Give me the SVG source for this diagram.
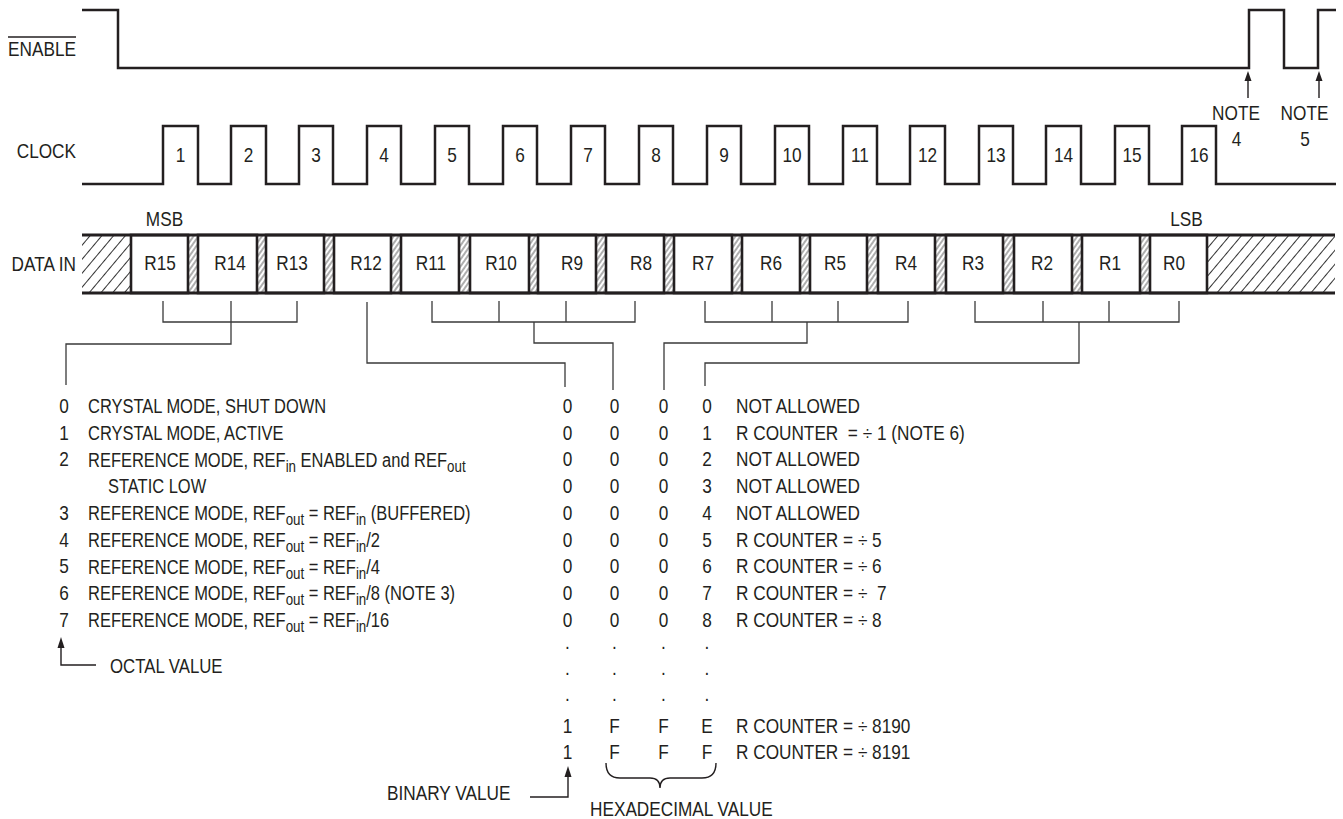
<svg xmlns="http://www.w3.org/2000/svg" width="1343" height="819" viewBox="0 0 1343 819">
<style>
.t{font-family:"Liberation Sans",Arial,Helvetica,sans-serif;font-size:21px;fill:#231f20}
.m{text-anchor:middle}
.e{text-anchor:end}
.sub{font-size:17px}
.wave{fill:none;stroke:#231f20;stroke-width:2.5}
.rail{fill:none;stroke:#231f20;stroke-width:3}
.box{fill:#fff;stroke:#231f20;stroke-width:2.6}
.con{fill:none;stroke:#3a3a3a;stroke-width:1.3}
.arr{fill:none;stroke:#231f20;stroke-width:1.4}
</style>
<defs>
<pattern id="hatch" width="9" height="9" patternUnits="userSpaceOnUse" patternTransform="rotate(40)">
<line x1="4.5" y1="-1" x2="4.5" y2="10" stroke="#333" stroke-width="1"/>
</pattern>
<pattern id="hatchF" width="4" height="4" patternUnits="userSpaceOnUse" patternTransform="rotate(35)">
<line x1="2" y1="-1" x2="2" y2="5" stroke="#333" stroke-width="0.8"/>
</pattern>
</defs>
<rect width="1343" height="819" fill="#fff"/>

<g id="enable">
<path class="wave" d="M82 10 H118 V68 H1249 V10 H1284 V68 H1318 V10 H1336"/>
<text class="t e" transform="matrix(0.82 0 0 1 76 56)">ENABLE</text>
<line x1="8" y1="37" x2="76" y2="37" stroke="#231f20" stroke-width="1.4"/>
</g>

<g id="notes">
<path class="arr" d="M1248 80 V98 M1319 80 V98"/>
<path d="M1248 71 L1244.5 81 L1251.5 81 Z M1319 71 L1315.5 81 L1322.5 81 Z" fill="#231f20"/>
<text class="t m" transform="matrix(0.82 0 0 1 1236 120)">NOTE</text>
<text class="t m" transform="matrix(0.82 0 0 1 1236.5 146)">4</text>
<text class="t m" transform="matrix(0.82 0 0 1 1304.5 120)">NOTE</text>
<text class="t m" transform="matrix(0.82 0 0 1 1305 146)">5</text>
</g>

<g id="clock">
<path class="wave" d="M82 184 H163 V126 H198 V184 H231 V126 H266 V184 H299 V126 H333 V184 H367 V126 H401 V184 H435 V126 H469 V184 H503 V126 H537 V184 H571 V126 H605 V184 H639 V126 H673 V184 H707 V126 H741 V184 H775 V126 H809 V184 H843 V126 H877 V184 H910 V126 H945 V184 H979 V126 H1013 V184 H1046 V126 H1081 V184 H1115 V126 H1149 V184 H1182 V126 H1216 V184 H1336"/>
<text class="t e" transform="matrix(0.82 0 0 1 76 158)">CLOCK</text>
<text class="t m" transform="matrix(0.82 0 0 1 180.5 162)">1</text>
<text class="t m" transform="matrix(0.82 0 0 1 248.5 162)">2</text>
<text class="t m" transform="matrix(0.82 0 0 1 316 162)">3</text>
<text class="t m" transform="matrix(0.82 0 0 1 384 162)">4</text>
<text class="t m" transform="matrix(0.82 0 0 1 452 162)">5</text>
<text class="t m" transform="matrix(0.82 0 0 1 520 162)">6</text>
<text class="t m" transform="matrix(0.82 0 0 1 588 162)">7</text>
<text class="t m" transform="matrix(0.82 0 0 1 656 162)">8</text>
<text class="t m" transform="matrix(0.82 0 0 1 724 162)">9</text>
<text class="t m" transform="matrix(0.82 0 0 1 792 162)">10</text>
<text class="t m" transform="matrix(0.82 0 0 1 860 162)">11</text>
<text class="t m" transform="matrix(0.82 0 0 1 927.5 162)">12</text>
<text class="t m" transform="matrix(0.82 0 0 1 996 162)">13</text>
<text class="t m" transform="matrix(0.82 0 0 1 1063.5 162)">14</text>
<text class="t m" transform="matrix(0.82 0 0 1 1132 162)">15</text>
<text class="t m" transform="matrix(0.82 0 0 1 1199 162)">16</text>
</g>

<g id="datain">
<text class="t e" transform="matrix(0.82 0 0 1 76 271)">DATA IN</text>
<text class="t m" transform="matrix(0.82 0 0 1 164.5 226)">MSB</text>
<text class="t m" transform="matrix(0.82 0 0 1 1186.5 226)">LSB</text>
<rect x="82" y="235" width="48" height="58" fill="url(#hatch)"/>
<rect x="1208" y="235" width="127" height="58" fill="url(#hatch)"/>
<rect x="189" y="235" width="8" height="58" fill="url(#hatchF)"/>
<rect x="258" y="235" width="7" height="58" fill="url(#hatchF)"/>
<rect x="325" y="235" width="8" height="58" fill="url(#hatchF)"/>
<rect x="392" y="235" width="8" height="58" fill="url(#hatchF)"/>
<rect x="460" y="235" width="9" height="58" fill="url(#hatchF)"/>
<rect x="530" y="235" width="7" height="58" fill="url(#hatchF)"/>
<rect x="597" y="235" width="8" height="58" fill="url(#hatchF)"/>
<rect x="665" y="235" width="8" height="58" fill="url(#hatchF)"/>
<rect x="733" y="235" width="8" height="58" fill="url(#hatchF)"/>
<rect x="801" y="235" width="8" height="58" fill="url(#hatchF)"/>
<rect x="868" y="235" width="9" height="58" fill="url(#hatchF)"/>
<rect x="936" y="235" width="9" height="58" fill="url(#hatchF)"/>
<rect x="1004" y="235" width="9" height="58" fill="url(#hatchF)"/>
<rect x="1073" y="235" width="8" height="58" fill="url(#hatchF)"/>
<rect x="1141" y="235" width="8" height="58" fill="url(#hatchF)"/>
</g>

<g id="r15"><rect class="box" x="131" y="235" width="57" height="58"/><text class="t m" transform="matrix(0.82 0 0 1 160 270)">R15</text></g>
<g id="r14"><rect class="box" x="198" y="235" width="59" height="58"/><text class="t m" transform="matrix(0.82 0 0 1 230 270)">R14</text></g>
<g id="r13"><rect class="box" x="266" y="235" width="58" height="58"/><text class="t m" transform="matrix(0.82 0 0 1 292 270)">R13</text></g>
<g id="r12"><rect class="box" x="334" y="235" width="57" height="58"/><text class="t m" transform="matrix(0.82 0 0 1 366 270)">R12</text></g>
<g id="r11"><rect class="box" x="401" y="235" width="58" height="58"/><text class="t m" transform="matrix(0.82 0 0 1 431 270)">R11</text></g>
<g id="r10"><rect class="box" x="470" y="235" width="59" height="58"/><text class="t m" transform="matrix(0.82 0 0 1 501 270)">R10</text></g>
<g id="r9"><rect class="box" x="538" y="235" width="58" height="58"/><text class="t m" transform="matrix(0.82 0 0 1 572 270)">R9</text></g>
<g id="r8"><rect class="box" x="606" y="235" width="58" height="58"/><text class="t m" transform="matrix(0.82 0 0 1 641 270)">R8</text></g>
<g id="r7"><rect class="box" x="674" y="235" width="58" height="58"/><text class="t m" transform="matrix(0.82 0 0 1 703 270)">R7</text></g>
<g id="r6"><rect class="box" x="742" y="235" width="58" height="58"/><text class="t m" transform="matrix(0.82 0 0 1 771 270)">R6</text></g>
<g id="r5"><rect class="box" x="810" y="235" width="57" height="58"/><text class="t m" transform="matrix(0.82 0 0 1 835 270)">R5</text></g>
<g id="r4"><rect class="box" x="878" y="235" width="57" height="58"/><text class="t m" transform="matrix(0.82 0 0 1 906 270)">R4</text></g>
<g id="r3"><rect class="box" x="946" y="235" width="57" height="58"/><text class="t m" transform="matrix(0.82 0 0 1 973 270)">R3</text></g>
<g id="r2"><rect class="box" x="1014" y="235" width="58" height="58"/><text class="t m" transform="matrix(0.82 0 0 1 1042 270)">R2</text></g>
<g id="r1"><rect class="box" x="1082" y="235" width="58" height="58"/><text class="t m" transform="matrix(0.82 0 0 1 1110 270)">R1</text></g>
<g id="r0"><rect class="box" x="1150" y="235" width="57" height="58"/><text class="t m" transform="matrix(0.82 0 0 1 1174 270)">R0</text></g>
<g id="rails">
<path class="rail" d="M82 235 H1335 M82 293 H1335"/>
</g>

<g id="connectors">
<path class="con" d="M163 301 V322 H297 V301 M231 301 V344 H66 V385"/>
<path class="con" d="M367 302 V363 H565 V387"/>
<path class="con" d="M432 301 V322 H635 V301 M499 301 V322 M566 301 V322 M534 322 V343 H613 V390"/>
<path class="con" d="M705 301 V322 H908 V301 M772 301 V322 M838 301 V322 M807 322 V343 H664 V390"/>
<path class="con" d="M975 301 V322 H1179 V301 M1043 301 V322 M1109 301 V322 M1079 322 V363 H705 V386"/>
<path class="arr" d="M61 646 V665 H96"/>
<path d="M61 637 L57.5 648 L64.5 648 Z" fill="#231f20"/>
<path class="arr" d="M530 797 H568 V775"/>
<path d="M568 766 L564.5 777 L571.5 777 Z" fill="#231f20"/>
<path class="arr" d="M606 763 Q606 778 620 778 H650 Q660 778 660 788 Q660 778 670 778 H702 Q716 778 716 763"/>
</g>

<g id="octal-table">
<text class="t m" transform="matrix(0.82 0 0 1 64 0)"><tspan x="0" y="413">0</tspan><tspan x="0" y="439.75">1</tspan><tspan x="0" y="466.5">2</tspan><tspan x="0" y="520">3</tspan><tspan x="0" y="546.75">4</tspan><tspan x="0" y="573.5">5</tspan><tspan x="0" y="600.25">6</tspan><tspan x="0" y="627">7</tspan></text>
<text class="t" transform="matrix(0.785 0 0 1 88 413)">CRYSTAL MODE, SHUT DOWN</text>
<text class="t" transform="matrix(0.785 0 0 1 88 439.75)">CRYSTAL MODE, ACTIVE</text>
<text class="t" transform="matrix(0.785 0 0 1 88 466.5)">REFERENCE MODE, REF<tspan class="sub" dy="5">in</tspan><tspan dy="-5"> ENABLED and REF</tspan><tspan class="sub" dy="5">out</tspan></text>
<text class="t" transform="matrix(0.785 0 0 1 108 493.25)">STATIC LOW</text>
<text class="t" transform="matrix(0.785 0 0 1 88 520)">REFERENCE MODE, REF<tspan class="sub" dy="5">out</tspan><tspan dy="-5"> = REF</tspan><tspan class="sub" dy="5">in</tspan><tspan dy="-5"> (BUFFERED)</tspan></text>
<text class="t" transform="matrix(0.785 0 0 1 88 546.75)">REFERENCE MODE, REF<tspan class="sub" dy="5">out</tspan><tspan dy="-5"> = REF</tspan><tspan class="sub" dy="5">in</tspan><tspan dy="-5">/2</tspan></text>
<text class="t" transform="matrix(0.785 0 0 1 88 573.5)">REFERENCE MODE, REF<tspan class="sub" dy="5">out</tspan><tspan dy="-5"> = REF</tspan><tspan class="sub" dy="5">in</tspan><tspan dy="-5">/4</tspan></text>
<text class="t" transform="matrix(0.785 0 0 1 88 600.25)">REFERENCE MODE, REF<tspan class="sub" dy="5">out</tspan><tspan dy="-5"> = REF</tspan><tspan class="sub" dy="5">in</tspan><tspan dy="-5">/8 (NOTE 3)</tspan></text>
<text class="t" transform="matrix(0.785 0 0 1 88 627)">REFERENCE MODE, REF<tspan class="sub" dy="5">out</tspan><tspan dy="-5"> = REF</tspan><tspan class="sub" dy="5">in</tspan><tspan dy="-5">/16</tspan></text>
<text class="t" transform="matrix(0.8 0 0 1 110 673)">OCTAL VALUE</text>
</g>

<g id="counter-table">
<text class="t m" transform="matrix(0.82 0 0 1 567.5 0)"><tspan x="0" y="413">0</tspan><tspan x="0" y="439.75">0</tspan><tspan x="0" y="466.5">0</tspan><tspan x="0" y="493.25">0</tspan><tspan x="0" y="520">0</tspan><tspan x="0" y="546.75">0</tspan><tspan x="0" y="573.5">0</tspan><tspan x="0" y="600.25">0</tspan><tspan x="0" y="627">0</tspan><tspan x="0" y="649">.</tspan><tspan x="0" y="675">.</tspan><tspan x="0" y="701">.</tspan><tspan x="0" y="733">1</tspan><tspan x="0" y="759">1</tspan></text>
<text class="t m" transform="matrix(0.82 0 0 1 614.5 0)"><tspan x="0" y="413">0</tspan><tspan x="0" y="439.75">0</tspan><tspan x="0" y="466.5">0</tspan><tspan x="0" y="493.25">0</tspan><tspan x="0" y="520">0</tspan><tspan x="0" y="546.75">0</tspan><tspan x="0" y="573.5">0</tspan><tspan x="0" y="600.25">0</tspan><tspan x="0" y="627">0</tspan><tspan x="0" y="649">.</tspan><tspan x="0" y="675">.</tspan><tspan x="0" y="701">.</tspan><tspan x="0" y="733">F</tspan><tspan x="0" y="759">F</tspan></text>
<text class="t m" transform="matrix(0.82 0 0 1 663.5 0)"><tspan x="0" y="413">0</tspan><tspan x="0" y="439.75">0</tspan><tspan x="0" y="466.5">0</tspan><tspan x="0" y="493.25">0</tspan><tspan x="0" y="520">0</tspan><tspan x="0" y="546.75">0</tspan><tspan x="0" y="573.5">0</tspan><tspan x="0" y="600.25">0</tspan><tspan x="0" y="627">0</tspan><tspan x="0" y="649">.</tspan><tspan x="0" y="675">.</tspan><tspan x="0" y="701">.</tspan><tspan x="0" y="733">F</tspan><tspan x="0" y="759">F</tspan></text>
<text class="t m" transform="matrix(0.82 0 0 1 707 0)"><tspan x="0" y="413">0</tspan><tspan x="0" y="439.75">1</tspan><tspan x="0" y="466.5">2</tspan><tspan x="0" y="493.25">3</tspan><tspan x="0" y="520">4</tspan><tspan x="0" y="546.75">5</tspan><tspan x="0" y="573.5">6</tspan><tspan x="0" y="600.25">7</tspan><tspan x="0" y="627">8</tspan><tspan x="0" y="649">.</tspan><tspan x="0" y="675">.</tspan><tspan x="0" y="701">.</tspan><tspan x="0" y="733">E</tspan><tspan x="0" y="759">F</tspan></text>
<text class="t" xml:space="preserve" transform="matrix(0.82 0 0 1 736 0)"><tspan x="0" y="413">NOT ALLOWED</tspan><tspan x="0" y="439.75">R COUNTER  = ÷ 1 (NOTE 6)</tspan><tspan x="0" y="466.5">NOT ALLOWED</tspan><tspan x="0" y="493.25">NOT ALLOWED</tspan><tspan x="0" y="520">NOT ALLOWED</tspan><tspan x="0" y="546.75">R COUNTER = ÷ 5</tspan><tspan x="0" y="573.5">R COUNTER = ÷ 6</tspan><tspan x="0" y="600.25">R COUNTER = ÷  7</tspan><tspan x="0" y="627">R COUNTER = ÷ 8</tspan><tspan x="0" y="733">R COUNTER = ÷ 8190</tspan><tspan x="0" y="759">R COUNTER = ÷ 8191</tspan></text>
<text class="t" transform="matrix(0.82 0 0 1 387 800)">BINARY VALUE</text>
<text class="t" transform="matrix(0.82 0 0 1 590 816)">HEXADECIMAL VALUE</text>
</g>
</svg>
